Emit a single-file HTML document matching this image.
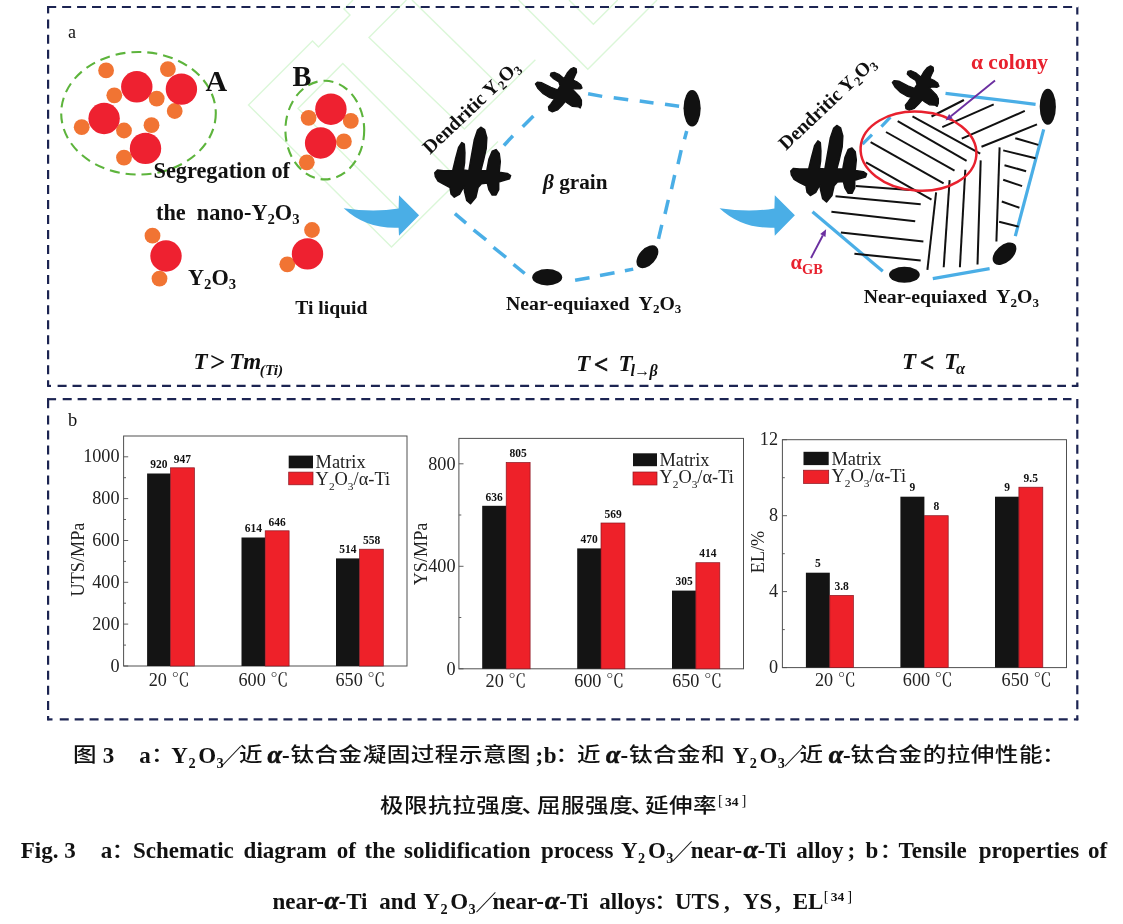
<!DOCTYPE html>
<html lang="zh"><head><meta charset="utf-8"><title>Fig. 3</title>
<style>
html,body{margin:0;padding:0;background:#fff;}
body{width:1123px;height:924px;overflow:hidden;position:relative;font-family:"Liberation Serif","Noto Sans CJK SC",serif;}
svg{position:absolute;left:0;top:0;display:block;}
svg text{font-family:"Liberation Serif","Noto Sans CJK SC",serif;fill:#111;}
.b{font-weight:bold;}
.bi{font-weight:bold;font-style:italic;}
.cap{font-weight:bold;fill:#111;font-size:23px;}
.cj{font-family:"Liberation Serif","Noto Sans CJK SC",sans-serif;font-weight:500;font-size:22px;letter-spacing:0.5px;}
.ax{font-size:18.2px;fill:#222;}
.dc{font-family:"Liberation Serif","Noto Serif CJK SC",serif;}
.val{font-size:11.5px;font-weight:bold;fill:#111;}
.lg{font-size:18.4px;fill:#222;}
</style></head><body>
<svg width="1123" height="924" viewBox="0 0 1123 924">
<rect x="0" y="0" width="1123" height="924" fill="#fff"/>
<g fill="none" stroke="#dbf7d8" stroke-width="1.4">
<path d="M353,0 L344,9 L350,15 L318.5,47 L312.5,41 L248.5,105 L391.5,247 L498,141.5"/>
<path d="M404.5,215 L298,108.5 L342.8,63.6 L460.6,181.4"/>
<path d="M406.4,0 L369,37.4 L464.4,129 L535.4,59.8"/>
<path d="M412,0 L501.8,87.9"/>
<path d="M518.6,0 L587.8,69.2 L657,0"/>
<path d="M569,0 L593.4,24.3 L617.7,0"/>
</g>
<g fill="none" stroke="#1c2452" stroke-width="2.2">
<line x1="47.2" y1="7.0" x2="1078.2" y2="7.0" stroke-dasharray="9.0 5.94"/>
<line x1="48.1" y1="6.1" x2="48.1" y2="13.4"/>
<line x1="48.1" y1="19.6" x2="48.1" y2="386.4" stroke-dasharray="9.0 6.03"/>
<line x1="47.2" y1="385.9" x2="51" y2="385.9"/>
<line x1="57.6" y1="385.9" x2="1066" y2="385.9" stroke-dasharray="9.0 5.92"/>
<line x1="1071.8" y1="385.9" x2="1078.2" y2="385.9"/>
<line x1="1077.3" y1="7.3" x2="1077.3" y2="14.5"/>
<line x1="1077.3" y1="21.8" x2="1077.3" y2="386.8" stroke-dasharray="9.0 6.03"/>
<line x1="47.2" y1="399.2" x2="56.1" y2="399.2"/>
<line x1="62.7" y1="399.2" x2="1071.5" y2="399.2" stroke-dasharray="9.0 5.93"/>
<line x1="48.1" y1="398.3" x2="48.1" y2="408.2"/>
<line x1="48.1" y1="415.5" x2="48.1" y2="720.3" stroke-dasharray="9.0 6.02"/>
<line x1="47.2" y1="719.4" x2="52.5" y2="719.4"/>
<line x1="59.75" y1="719.4" x2="1068" y2="719.4" stroke-dasharray="9.0 5.91"/>
<line x1="1073.9" y1="719.4" x2="1078.2" y2="719.4"/>
<line x1="1077.3" y1="399" x2="1077.3" y2="408.2"/>
<line x1="1077.3" y1="414.7" x2="1077.3" y2="720.3" stroke-dasharray="9.0 6.03"/>
</g>
<text x="68" y="37.8" font-size="18" fill="#222">a</text>
<text x="68" y="426.4" font-size="18.5" fill="#222">b</text>
<ellipse cx="138.5" cy="113.3" rx="77.3" ry="61.3" fill="none" stroke="#5db43c" stroke-width="2.1" stroke-dasharray="10 6"/>
<ellipse cx="324.8" cy="130.1" rx="39.4" ry="49.3" fill="none" stroke="#5db43c" stroke-width="2.1" stroke-dasharray="10 6"/>
<g fill="#f17433">
<circle cx="106.1" cy="70.4" r="7.9"/>
<circle cx="167.9" cy="69.1" r="7.9"/>
<circle cx="114.3" cy="95.3" r="7.9"/>
<circle cx="156.7" cy="98.6" r="7.9"/>
<circle cx="174.7" cy="111" r="7.9"/>
<circle cx="151.5" cy="125.2" r="7.9"/>
<circle cx="81.7" cy="127.2" r="7.9"/>
<circle cx="124" cy="130.5" r="7.9"/>
<circle cx="124" cy="157.6" r="7.9"/>
<circle cx="308.6" cy="117.8" r="7.9"/>
<circle cx="350.8" cy="120.9" r="7.9"/>
<circle cx="343.9" cy="141.4" r="7.9"/>
<circle cx="306.8" cy="162.3" r="7.9"/>
<circle cx="152.5" cy="235.7" r="7.9"/>
<circle cx="159.5" cy="278.6" r="7.9"/>
<circle cx="312" cy="230" r="7.9"/>
<circle cx="287.3" cy="264.3" r="7.9"/>
</g>
<g fill="#ee2130">
<circle cx="136.8" cy="86.8" r="15.7"/>
<circle cx="181.4" cy="89.1" r="15.7"/>
<circle cx="104.1" cy="118.5" r="15.7"/>
<circle cx="145.5" cy="148.4" r="15.7"/>
<circle cx="330.9" cy="109.2" r="15.7"/>
<circle cx="320.6" cy="143" r="15.7"/>
<circle cx="166" cy="256" r="15.7"/>
<circle cx="307.5" cy="253.9" r="15.7"/>
</g>
<text class="b" x="205.5" y="90.6" font-size="30">A</text>
<text class="b" x="292.5" y="86" font-size="28.5">B</text>
<text class="b" x="153.5" y="178" font-size="22.3">Segregation of</text>
<text class="b" x="156" y="219.6" font-size="22.3" xml:space="preserve">the  nano-Y<tspan dy="4.5" font-size="66%">2</tspan><tspan dy="-4.5">O</tspan><tspan dy="4.5" font-size="66%">3</tspan></text>
<text class="b" x="188" y="284.5" font-size="22.3">Y<tspan dy="4.5" font-size="66%">2</tspan><tspan dy="-4.5">O</tspan><tspan dy="4.5" font-size="66%">3</tspan></text>
<text class="b" x="295.3" y="314.2" font-size="19.6">Ti liquid</text>
<text class="bi" y="368.6" font-size="23"><tspan x="193.6">T</tspan><tspan x="210" y="370.6" font-size="27" font-style="normal">&gt;</tspan><tspan x="229.2" y="368.6">Tm</tspan><tspan x="259.8" y="374.8" font-size="15.3">(Ti)</tspan></text>
<path fill="#4aaee6" d="M343.7,208.2 Q374,212.5 398.6,208.4 L399,195.2 L419.1,215.3 L399,235.8 L398.6,227.7 Q366,229 343.7,208.2 Z"/>
<path fill="#4aaee6" d="M719.5,208.2 Q749.8,212.5 774.4000000000001,208.4 L774.8,195.2 L794.9000000000001,215.3 L774.8,235.8 L774.4000000000001,227.7 Q741.8,229 719.5,208.2 Z"/>
<path d="M434.8,172.8 L437.5,170.1 L443.5,170.7 L452.7,170.7 L455.4,159.3 L458.6,147.4 L461.9,142.5 L464.3,144.2 L464.9,152.8 L464.6,162.6 L463.5,170.1 L468.9,170.7 L471.6,155.0 L474.3,139.8 L477.6,130.1 L480.8,127.2 L484.6,129.6 L486.8,137.7 L486.2,148.5 L483.5,160.4 L480.8,170.7 L486.8,170.7 L488.9,159.3 L492.2,151.2 L496.0,149.6 L499.2,153.4 L500.3,161.5 L499.2,172.3 L507.3,173.4 L510.6,175.6 L509.5,178.8 L501.9,181.0 L498.7,182.0 L498.7,189.6 L496.0,195.0 L492.2,195.0 L488.9,189.6 L487.3,183.1 L481.4,183.7 L478.1,187.5 L475.9,197.2 L470.5,203.7 L466.7,200.4 L464.6,191.8 L464.0,186.4 L459.7,194.0 L454.3,197.2 L451.1,194.0 L450.0,187.5 L443.5,184.2 L438.1,181.0 L435.4,176.6 Z" fill="#111" stroke="#111" stroke-width="1.5" stroke-linejoin="round" transform="translate(0,0)"/>
<path d="M535.4,84.0 L537.3,82.1 L541.9,82.7 L551.0,87.3 L557.5,89.9 L560.1,86.0 L558.8,82.1 L553.6,78.8 L550.3,75.6 L551.0,73.0 L554.2,72.3 L558.8,74.3 L564.0,78.5 L567.2,73.0 L570.5,69.1 L573.7,67.5 L576.3,68.8 L576.6,72.3 L574.4,76.9 L573.1,80.1 L576.9,81.8 L580.8,84.7 L582.1,87.9 L580.2,88.9 L575.6,88.6 L572.4,89.2 L575.6,92.5 L579.5,96.4 L581.5,100.3 L581.5,104.8 L580.2,108.1 L578.2,106.8 L572.4,106.4 L567.9,103.5 L565.3,101.6 L562.0,105.5 L557.5,110.0 L552.3,111.9 L549.0,110.3 L548.4,106.8 L551.0,103.5 L554.2,99.0 L549.7,97.7 L543.2,93.8 L538.0,88.6 Z" fill="#111" stroke="#111" stroke-width="1.2" stroke-linejoin="round" transform="translate(0,0)"/>
<ellipse cx="692.1" cy="108.3" rx="8.6" ry="18.2" fill="#111"/>
<ellipse cx="647.4" cy="256.8" rx="13.5" ry="8.3" fill="#111" transform="rotate(-48 647.4 256.8)"/>
<ellipse cx="547.2" cy="277.3" rx="15" ry="8.2" fill="#111"/>
<g stroke="#4aaee6" stroke-width="3.5" fill="none">
<line x1="588.1" y1="93.8" x2="602.2" y2="96.4"/>
<line x1="613.7" y1="97.7" x2="628.2" y2="99.7"/>
<line x1="639.7" y1="101" x2="653.5" y2="103.1"/>
<line x1="665" y1="104.2" x2="679.1" y2="106.2"/>
<line x1="686.7" y1="131" x2="684.5" y2="139.3"/>
<line x1="681.2" y1="150.1" x2="678" y2="164.2"/>
<line x1="674.7" y1="175" x2="671.5" y2="189.1"/>
<line x1="668.3" y1="199.9" x2="665" y2="214"/>
<line x1="661.8" y1="224.8" x2="658.5" y2="238.9"/>
<line x1="575.1" y1="280.3" x2="589.5" y2="277.8"/>
<line x1="600" y1="275.5" x2="614.5" y2="272.8"/>
<line x1="624.9" y1="270.8" x2="633.2" y2="269.1"/>
<line x1="454.9" y1="213.7" x2="466.1" y2="223.2"/>
<line x1="473.6" y1="229.9" x2="486.1" y2="239.9"/>
<line x1="493.5" y1="247.4" x2="506" y2="257.3"/>
<line x1="513.5" y1="264.3" x2="524.7" y2="273.5"/>
<line x1="503.9" y1="145.5" x2="512.9" y2="135.7"/>
<line x1="522.7" y1="126.8" x2="533.4" y2="116"/>
</g>
<text class="b" font-size="19.5" transform="translate(430,155) rotate(-43.5)">Dendritic Y<tspan dy="3.5" font-size="66%">2</tspan><tspan dy="-3.5">O</tspan><tspan dy="3.5" font-size="66%">3</tspan></text>
<text class="b" x="543" y="189.3" font-size="21.2"><tspan font-style="italic">β</tspan> grain</text>
<text class="b" x="506" y="309.7" font-size="19.8" xml:space="preserve">Near-equiaxed  Y<tspan dy="3.5" font-size="66%">2</tspan><tspan dy="-3.5">O</tspan><tspan dy="3.5" font-size="66%">3</tspan></text>
<text class="bi" y="371" font-size="23"><tspan x="576.2">T</tspan><tspan x="594" y="373" font-size="25" font-style="normal" style="stroke:#111;stroke-width:0.7px">&lt;</tspan><tspan x="618.5" y="371">T</tspan><tspan x="630.6" y="376" font-size="16" style="letter-spacing:-0.8px">l→β</tspan></text>
<path d="M434.8,172.8 L437.5,170.1 L443.5,170.7 L452.7,170.7 L455.4,159.3 L458.6,147.4 L461.9,142.5 L464.3,144.2 L464.9,152.8 L464.6,162.6 L463.5,170.1 L468.9,170.7 L471.6,155.0 L474.3,139.8 L477.6,130.1 L480.8,127.2 L484.6,129.6 L486.8,137.7 L486.2,148.5 L483.5,160.4 L480.8,170.7 L486.8,170.7 L488.9,159.3 L492.2,151.2 L496.0,149.6 L499.2,153.4 L500.3,161.5 L499.2,172.3 L507.3,173.4 L510.6,175.6 L509.5,178.8 L501.9,181.0 L498.7,182.0 L498.7,189.6 L496.0,195.0 L492.2,195.0 L488.9,189.6 L487.3,183.1 L481.4,183.7 L478.1,187.5 L475.9,197.2 L470.5,203.7 L466.7,200.4 L464.6,191.8 L464.0,186.4 L459.7,194.0 L454.3,197.2 L451.1,194.0 L450.0,187.5 L443.5,184.2 L438.1,181.0 L435.4,176.6 Z" fill="#111" stroke="#111" stroke-width="1.5" stroke-linejoin="round" transform="translate(356,-1.7)"/>
<path d="M535.4,84.0 L537.3,82.1 L541.9,82.7 L551.0,87.3 L557.5,89.9 L560.1,86.0 L558.8,82.1 L553.6,78.8 L550.3,75.6 L551.0,73.0 L554.2,72.3 L558.8,74.3 L564.0,78.5 L567.2,73.0 L570.5,69.1 L573.7,67.5 L576.3,68.8 L576.6,72.3 L574.4,76.9 L573.1,80.1 L576.9,81.8 L580.8,84.7 L582.1,87.9 L580.2,88.9 L575.6,88.6 L572.4,89.2 L575.6,92.5 L579.5,96.4 L581.5,100.3 L581.5,104.8 L580.2,108.1 L578.2,106.8 L572.4,106.4 L567.9,103.5 L565.3,101.6 L562.0,105.5 L557.5,110.0 L552.3,111.9 L549.0,110.3 L548.4,106.8 L551.0,103.5 L554.2,99.0 L549.7,97.7 L543.2,93.8 L538.0,88.6 Z" fill="#111" stroke="#111" stroke-width="1.2" stroke-linejoin="round" transform="translate(356.9,-1.6)"/>
<g stroke="#4aaee6" stroke-width="3.2" fill="none" stroke-linecap="butt">
<line x1="945.5" y1="93.3" x2="1035.6" y2="104.4"/>
<line x1="1043.7" y1="129.3" x2="1015.3" y2="236.1"/>
<line x1="932.8" y1="278.6" x2="989.6" y2="268.6"/>
<line x1="812.5" y1="211.8" x2="882.8" y2="271.3"/>
<line x1="862.5" y1="144.1" x2="872" y2="134.7"/>
<line x1="881.4" y1="126.6" x2="890.4" y2="117.1"/>
</g>
<g stroke="#111" stroke-width="2" fill="none">
<line x1="912.5" y1="116.3" x2="980.2" y2="153.6"/>
<line x1="897.7" y1="121.1" x2="966.6" y2="160.9"/>
<line x1="886" y1="132" x2="954.5" y2="170.6"/>
<line x1="870.6" y1="142.2" x2="943.6" y2="183.4"/>
<line x1="866" y1="162.3" x2="931.5" y2="199.6"/>
<line x1="931.5" y1="116.5" x2="963.9" y2="100"/>
<line x1="942.3" y1="127.1" x2="993.7" y2="104.4"/>
<line x1="961.8" y1="138.7" x2="1024.8" y2="110.9"/>
<line x1="981.5" y1="146.8" x2="1037" y2="124.4"/>
<line x1="1015.3" y1="138.2" x2="1038.3" y2="144.9"/>
<line x1="1003.2" y1="150.4" x2="1035.6" y2="158.2"/>
<line x1="1004.5" y1="165.2" x2="1026.1" y2="171.2"/>
<line x1="1003.2" y1="179.8" x2="1022.1" y2="186.1"/>
<line x1="1001.8" y1="201.5" x2="1019.4" y2="207.7"/>
<line x1="999.1" y1="221.8" x2="1018.6" y2="226.6"/>
<line x1="999.6" y1="147.4" x2="996.4" y2="241.5"/>
<line x1="936.1" y1="192.3" x2="927.4" y2="269.9"/>
<line x1="949.6" y1="180.1" x2="943.7" y2="267.2"/>
<line x1="965.3" y1="169.8" x2="959.9" y2="267.2"/>
<line x1="980.7" y1="160.4" x2="977.5" y2="264.5"/>
<line x1="855.7" y1="186.1" x2="909.8" y2="190.1"/>
<line x1="835.5" y1="196.3" x2="920.7" y2="204.2"/>
<line x1="831.4" y1="211.8" x2="915.2" y2="221.2"/>
<line x1="840.9" y1="232.6" x2="923.4" y2="241.5"/>
<line x1="854.4" y1="253.7" x2="920.7" y2="260.4"/>
</g>
<ellipse cx="918.5" cy="151.2" rx="58" ry="39.5" fill="none" stroke="#e8212e" stroke-width="2.5" transform="rotate(4 918.5 151.2)"/>
<ellipse cx="1047.8" cy="106.8" rx="8.1" ry="18" fill="#111"/>
<ellipse cx="1004.5" cy="253.7" rx="14" ry="8.5" fill="#111" transform="rotate(-42 1004.5 253.7)"/>
<ellipse cx="904.4" cy="274.8" rx="15.4" ry="8" fill="#111"/>
<line x1="995" y1="80.6" x2="950.9" y2="116.2" stroke="#6b2fa0" stroke-width="1.9"/><path d="M945.5,120.6 L949.1,113.9 L952.8,118.5 Z" fill="#6b2fa0"/>
<line x1="811" y1="258" x2="822.8" y2="235.5" stroke="#6b2fa0" stroke-width="1.9"/><path d="M826.1,229.3 L825.5,236.9 L820.2,234.1 Z" fill="#6b2fa0"/>
<text class="b" x="971" y="69" font-size="21.5" style="fill:#e8212e">α colony</text>
<text class="b" x="790.5" y="268.6" font-size="20.5" style="fill:#e8212e">α<tspan dy="5.5" font-size="14.4">GB</tspan></text>
<text class="b" font-size="19.5" transform="translate(786,151) rotate(-43.5)">Dendritic Y<tspan dy="3.5" font-size="66%">2</tspan><tspan dy="-3.5">O</tspan><tspan dy="3.5" font-size="66%">3</tspan></text>
<text class="b" x="863.7" y="303" font-size="19.8" xml:space="preserve">Near-equiaxed  Y<tspan dy="3.5" font-size="66%">2</tspan><tspan dy="-3.5">O</tspan><tspan dy="3.5" font-size="66%">3</tspan></text>
<text class="bi" y="368.6" font-size="23"><tspan x="902">T</tspan><tspan x="920" y="370.6" font-size="25" font-style="normal" style="stroke:#111;stroke-width:0.7px">&lt;</tspan><tspan x="944.2" y="368.6">T</tspan><tspan x="956" y="373.9" font-size="16.5">α</tspan></text>
<rect x="123.6" y="436" width="283.4" height="230" fill="#fff" stroke="#505050" stroke-width="1"/>
<g stroke="#505050" stroke-width="0.9">
<line x1="123.6" y1="666.0" x2="128.2" y2="666.0"/>
<line x1="123.6" y1="624.1" x2="128.2" y2="624.1"/>
<line x1="123.6" y1="582.3" x2="128.2" y2="582.3"/>
<line x1="123.6" y1="540.5" x2="128.2" y2="540.5"/>
<line x1="123.6" y1="498.6" x2="128.2" y2="498.6"/>
<line x1="123.6" y1="456.8" x2="128.2" y2="456.8"/>
<line x1="123.6" y1="645.1" x2="126.0" y2="645.1"/>
<line x1="123.6" y1="603.2" x2="126.0" y2="603.2"/>
<line x1="123.6" y1="561.4" x2="126.0" y2="561.4"/>
<line x1="123.6" y1="519.5" x2="126.0" y2="519.5"/>
<line x1="123.6" y1="477.7" x2="126.0" y2="477.7"/>
</g>
<text class="ax" x="119.5" y="671.7" text-anchor="end">0</text>
<text class="ax" x="119.5" y="629.9" text-anchor="end">200</text>
<text class="ax" x="119.5" y="588.0" text-anchor="end">400</text>
<text class="ax" x="119.5" y="546.2" text-anchor="end">600</text>
<text class="ax" x="119.5" y="504.3" text-anchor="end">800</text>
<text class="ax" x="119.5" y="462.4" text-anchor="end">1000</text>
<rect x="147.1" y="473.5" width="23.4" height="192.5" fill="#141414"/>
<rect x="170.5" y="467.8" width="23.9" height="198.2" fill="#ee2129" stroke="#8a1520" stroke-width="0.7"/>
<text class="val" x="158.8" y="468.2" text-anchor="middle">920</text>
<text class="val" x="182.4" y="462.5" text-anchor="middle">947</text>
<rect x="241.5" y="537.5" width="23.7" height="128.5" fill="#141414"/>
<rect x="265.2" y="530.8" width="23.9" height="135.2" fill="#ee2129" stroke="#8a1520" stroke-width="0.7"/>
<text class="val" x="253.3" y="532.2" text-anchor="middle">614</text>
<text class="val" x="277.1" y="525.5" text-anchor="middle">646</text>
<rect x="336" y="558.4" width="23.6" height="107.6" fill="#141414"/>
<rect x="359.6" y="549.2" width="23.7" height="116.8" fill="#ee2129" stroke="#8a1520" stroke-width="0.7"/>
<text class="val" x="347.8" y="553.1" text-anchor="middle">514</text>
<text class="val" x="371.5" y="543.9" text-anchor="middle">558</text>
<text class="ax" x="169.2" y="686.3" text-anchor="middle" xml:space="preserve">20 <tspan class="dc">℃</tspan></text>
<text class="ax" x="263.5" y="686.3" text-anchor="middle" xml:space="preserve">600 <tspan class="dc">℃</tspan></text>
<text class="ax" x="360.5" y="686.3" text-anchor="middle" xml:space="preserve">650 <tspan class="dc">℃</tspan></text>
<text class="ax" text-anchor="middle" transform="translate(84,559.5) rotate(-90)">UTS/MPa</text>
<rect x="288.7" y="455.6" width="24.3" height="12.7" fill="#141414"/>
<rect x="288.7" y="472.1" width="24.3" height="12.7" fill="#ee2129" stroke="#8a1520" stroke-width="0.7"/>
<text class="lg" x="315.6" y="467.7">Matrix</text>
<text class="lg" x="315.6" y="484.5">Y<tspan dy="5" font-size="62%">2</tspan><tspan dy="-5">O</tspan><tspan dy="5" font-size="62%">3</tspan><tspan dy="-5">/α-Ti</tspan></text>
<rect x="458.9" y="438.4" width="284.6" height="230.39999999999998" fill="#fff" stroke="#505050" stroke-width="1"/>
<g stroke="#505050" stroke-width="0.9">
<line x1="458.9" y1="668.8" x2="463.5" y2="668.8"/>
<line x1="458.9" y1="566.3" x2="463.5" y2="566.3"/>
<line x1="458.9" y1="463.8" x2="463.5" y2="463.8"/>
<line x1="458.9" y1="617.5" x2="461.29999999999995" y2="617.5"/>
<line x1="458.9" y1="515.0" x2="461.29999999999995" y2="515.0"/>
</g>
<text class="ax" x="455.5" y="674.5" text-anchor="end">0</text>
<text class="ax" x="455.5" y="572.0" text-anchor="end">400</text>
<text class="ax" x="455.5" y="469.5" text-anchor="end">800</text>
<rect x="482.2" y="505.8" width="24.0" height="163.0" fill="#141414"/>
<rect x="506.2" y="462.5" width="23.9" height="206.3" fill="#ee2129" stroke="#8a1520" stroke-width="0.7"/>
<text class="val" x="494.2" y="500.5" text-anchor="middle">636</text>
<text class="val" x="518.1" y="457.2" text-anchor="middle">805</text>
<rect x="577.2" y="548.4" width="23.8" height="120.4" fill="#141414"/>
<rect x="601" y="523.0" width="23.9" height="145.8" fill="#ee2129" stroke="#8a1520" stroke-width="0.7"/>
<text class="val" x="589.1" y="543.1" text-anchor="middle">470</text>
<text class="val" x="613.0" y="517.7" text-anchor="middle">569</text>
<rect x="672" y="590.6" width="23.9" height="78.2" fill="#141414"/>
<rect x="695.9" y="562.7" width="23.9" height="106.1" fill="#ee2129" stroke="#8a1520" stroke-width="0.7"/>
<text class="val" x="684.0" y="585.3" text-anchor="middle">305</text>
<text class="val" x="707.8" y="557.4" text-anchor="middle">414</text>
<text class="ax" x="506" y="686.5" text-anchor="middle" xml:space="preserve">20 <tspan class="dc">℃</tspan></text>
<text class="ax" x="599.2" y="686.5" text-anchor="middle" xml:space="preserve">600 <tspan class="dc">℃</tspan></text>
<text class="ax" x="697.2" y="686.5" text-anchor="middle" xml:space="preserve">650 <tspan class="dc">℃</tspan></text>
<text class="ax" text-anchor="middle" transform="translate(426.7,554) rotate(-90)">YS/MPa</text>
<rect x="633" y="453.3" width="24.0" height="12.9" fill="#141414"/>
<rect x="633" y="472" width="24.0" height="13.0" fill="#ee2129" stroke="#8a1520" stroke-width="0.7"/>
<text class="lg" x="659.4" y="466">Matrix</text>
<text class="lg" x="659.4" y="483">Y<tspan dy="5" font-size="62%">2</tspan><tspan dy="-5">O</tspan><tspan dy="5" font-size="62%">3</tspan><tspan dy="-5">/α-Ti</tspan></text>
<rect x="782.4" y="439.7" width="284.1" height="227.90000000000003" fill="#fff" stroke="#505050" stroke-width="1"/>
<g stroke="#505050" stroke-width="0.9">
<line x1="782.4" y1="667.6" x2="787.0" y2="667.6"/>
<line x1="782.4" y1="591.6" x2="787.0" y2="591.6"/>
<line x1="782.4" y1="515.7" x2="787.0" y2="515.7"/>
<line x1="782.4" y1="439.7" x2="787.0" y2="439.7"/>
<line x1="782.4" y1="629.6" x2="784.8" y2="629.6"/>
<line x1="782.4" y1="553.7" x2="784.8" y2="553.7"/>
<line x1="782.4" y1="477.7" x2="784.8" y2="477.7"/>
</g>
<text class="ax" x="778" y="673.3" text-anchor="end">0</text>
<text class="ax" x="778" y="597.3" text-anchor="end">4</text>
<text class="ax" x="778" y="521.4" text-anchor="end">8</text>
<text class="ax" x="778" y="445.4" text-anchor="end">12</text>
<rect x="805.9" y="572.7" width="23.9" height="94.9" fill="#141414"/>
<rect x="829.8" y="595.4" width="23.6" height="72.2" fill="#ee2129" stroke="#8a1520" stroke-width="0.7"/>
<text class="val" x="817.8" y="567.4" text-anchor="middle">5</text>
<text class="val" x="841.6" y="590.1" text-anchor="middle">3.8</text>
<rect x="900.4" y="496.7" width="24.0" height="170.9" fill="#141414"/>
<rect x="924.4" y="515.7" width="23.8" height="151.9" fill="#ee2129" stroke="#8a1520" stroke-width="0.7"/>
<text class="val" x="912.4" y="491.4" text-anchor="middle">9</text>
<text class="val" x="936.3" y="510.4" text-anchor="middle">8</text>
<rect x="995" y="496.7" width="23.9" height="170.9" fill="#141414"/>
<rect x="1018.9" y="487.2" width="23.9" height="180.4" fill="#ee2129" stroke="#8a1520" stroke-width="0.7"/>
<text class="val" x="1007.0" y="491.4" text-anchor="middle">9</text>
<text class="val" x="1030.8" y="481.9" text-anchor="middle">9.5</text>
<text class="ax" x="835.4" y="686.3" text-anchor="middle" xml:space="preserve">20 <tspan class="dc">℃</tspan></text>
<text class="ax" x="927.8" y="686.3" text-anchor="middle" xml:space="preserve">600 <tspan class="dc">℃</tspan></text>
<text class="ax" x="1026.6" y="686.3" text-anchor="middle" xml:space="preserve">650 <tspan class="dc">℃</tspan></text>
<text class="ax" text-anchor="middle" transform="translate(763.6,552) rotate(-90)">EL/%</text>
<rect x="803.5" y="451.8" width="25.2" height="13.3" fill="#141414"/>
<rect x="803.5" y="470.2" width="25.2" height="13.3" fill="#ee2129" stroke="#8a1520" stroke-width="0.7"/>
<text class="lg" x="831.5" y="465.4">Matrix</text>
<text class="lg" x="831.5" y="481.6">Y<tspan dy="5" font-size="62%">2</tspan><tspan dy="-5">O</tspan><tspan dy="5" font-size="62%">3</tspan><tspan dy="-5">/α-Ti</tspan></text>
<text class="cap cj" transform="translate(73,762.1) scale(1.07,0.92)">图</text><text class="cap"><tspan x="102.7" y="762.5">3</tspan><tspan x="139.3" y="762.5">a</tspan></text><text class="cap cj" transform="translate(151,762.1) scale(1.07,0.92)">：</text><text class="cap"><tspan x="171.3" y="762.5">Y</tspan><tspan x="188.5" y="767.5" font-size="62%">2</tspan><tspan x="198.3" y="762.5">O</tspan><tspan x="216.6" y="767.5" font-size="62%">3</tspan></text><text class="cap cj" style="font-weight:400" transform="translate(220.7,763.5) scale(0.95,1)">／</text><text class="cap cj" transform="translate(239,762.1) scale(1.07,0.92)">近</text><text class="cap"><tspan x="267.5" y="762.5"><tspan font-style="italic" font-size="26" style="stroke:#111;stroke-width:0.7px">α</tspan>-</tspan></text><text class="cap cj" transform="translate(290.5,762.1) scale(1.07,0.92)">钛合金凝固过程示意图</text><text class="cap"><tspan x="535.5" y="762.5">;</tspan><tspan x="543.7" y="762.5">b</tspan></text><text class="cap cj" transform="translate(555.5,762.1) scale(1.07,0.92)">：</text><text class="cap cj" transform="translate(577,762.1) scale(1.07,0.92)">近</text><text class="cap"><tspan x="606" y="762.5"><tspan font-style="italic" font-size="26" style="stroke:#111;stroke-width:0.7px">α</tspan>-</tspan></text><text class="cap cj" transform="translate(629,762.1) scale(1.07,0.92)">钛合金和</text><text class="cap"><tspan x="732.5" y="762.5">Y</tspan><tspan x="749.7" y="767.5" font-size="62%">2</tspan><tspan x="759.5" y="762.5">O</tspan><tspan x="777.8" y="767.5" font-size="62%">3</tspan></text><text class="cap cj" style="font-weight:400" transform="translate(784,763.5) scale(0.95,1)">／</text><text class="cap cj" transform="translate(799.5,762.1) scale(1.07,0.92)">近</text><text class="cap"><tspan x="828.7" y="762.5"><tspan font-style="italic" font-size="26" style="stroke:#111;stroke-width:0.7px">α</tspan>-</tspan></text><text class="cap cj" transform="translate(850.5,762.1) scale(1.07,0.92)">钛合金的拉伸性能</text><text class="cap cj" transform="translate(1042,762.1) scale(1.07,0.92)">：</text>
<text class="cap cj" transform="translate(380,813.1) scale(1.07,0.92)">极限抗拉强度</text><text class="cap cj" transform="translate(521.5,813.1) scale(1.07,0.92)">、</text><text class="cap cj" transform="translate(537,813.1) scale(1.07,0.92)">屈服强度</text><text class="cap cj" transform="translate(630.5,813.1) scale(1.07,0.92)">、</text><text class="cap cj" transform="translate(645,813.1) scale(1.07,0.92)">延伸率</text><text class="cap"><tspan x="718" y="805.0" font-size="14.5" font-weight="normal">[</tspan><tspan x="725" y="805.5" font-size="13.5">34</tspan><tspan x="741.6" y="805.0" font-size="14.5" font-weight="normal">]</tspan></text>
<text class="cap"><tspan x="20.7" y="858.2">Fig. 3</tspan><tspan x="100.8" y="858.2">a</tspan></text><text class="cap cj" transform="translate(111.5,857.8) scale(1.07,0.92)">：</text><text class="cap"><tspan x="132.9" y="858.2">Schematic</tspan><tspan x="243.6" y="858.2">diagram</tspan><tspan x="336.7" y="858.2">of</tspan><tspan x="364.6" y="858.2">the</tspan><tspan x="404" y="858.2">solidification</tspan><tspan x="541" y="858.2">process</tspan><tspan x="620.9" y="858.2">Y</tspan><tspan x="638.1" y="863.2" font-size="62%">2</tspan><tspan x="647.9" y="858.2">O</tspan><tspan x="666.2" y="863.2" font-size="62%">3</tspan></text><text class="cap cj" style="font-weight:400" transform="translate(671.7,859.2) scale(0.95,1)">／</text><text class="cap"><tspan x="690.7" y="858.2">near-</tspan><tspan x="743.4" y="858.2"><tspan font-style="italic" font-size="26" style="stroke:#111;stroke-width:0.7px">α</tspan></tspan><tspan x="757.5" y="858.2">-Ti</tspan><tspan x="796.3" y="858.2">alloy</tspan><tspan x="847.4" y="858.2">;</tspan><tspan x="865.5" y="858.2">b</tspan></text><text class="cap cj" transform="translate(879.5,857.8) scale(1.07,0.92)">：</text><text class="cap"><tspan x="898.6" y="858.2">Tensile</tspan><tspan x="978.7" y="858.2">properties</tspan><tspan x="1087.9" y="858.2">of</tspan></text>
<text class="cap"><tspan x="272.5" y="909.3">near-</tspan><tspan x="324.5" y="909.3"><tspan font-style="italic" font-size="26" style="stroke:#111;stroke-width:0.7px">α</tspan></tspan><tspan x="338.5" y="909.3">-Ti</tspan><tspan x="379.2" y="909.3">and</tspan><tspan x="423.3" y="909.3">Y</tspan><tspan x="440.5" y="914.3" font-size="62%">2</tspan><tspan x="450.3" y="909.3">O</tspan><tspan x="468.6" y="914.3" font-size="62%">3</tspan></text><text class="cap cj" style="font-weight:400" transform="translate(475.5,910.3) scale(0.95,1)">／</text><text class="cap"><tspan x="492.5" y="909.3">near-</tspan><tspan x="545" y="909.3"><tspan font-style="italic" font-size="26" style="stroke:#111;stroke-width:0.7px">α</tspan></tspan><tspan x="559.3" y="909.3">-Ti</tspan><tspan x="599.3" y="909.3">alloys</tspan></text><text class="cap cj" transform="translate(654,908.9) scale(1.07,0.92)">：</text><text class="cap"><tspan x="675" y="909.3">UTS</tspan><tspan x="724" y="909.3">,</tspan><tspan x="742.9" y="909.3">YS</tspan><tspan x="775" y="909.3">,</tspan><tspan x="792.7" y="909.3">EL</tspan><tspan x="823.7" y="900.8" font-size="14.5" font-weight="normal">[</tspan><tspan x="830.7" y="901.3" font-size="13.5">34</tspan><tspan x="847.3" y="900.8" font-size="14.5" font-weight="normal">]</tspan></text>
</svg></body></html>
